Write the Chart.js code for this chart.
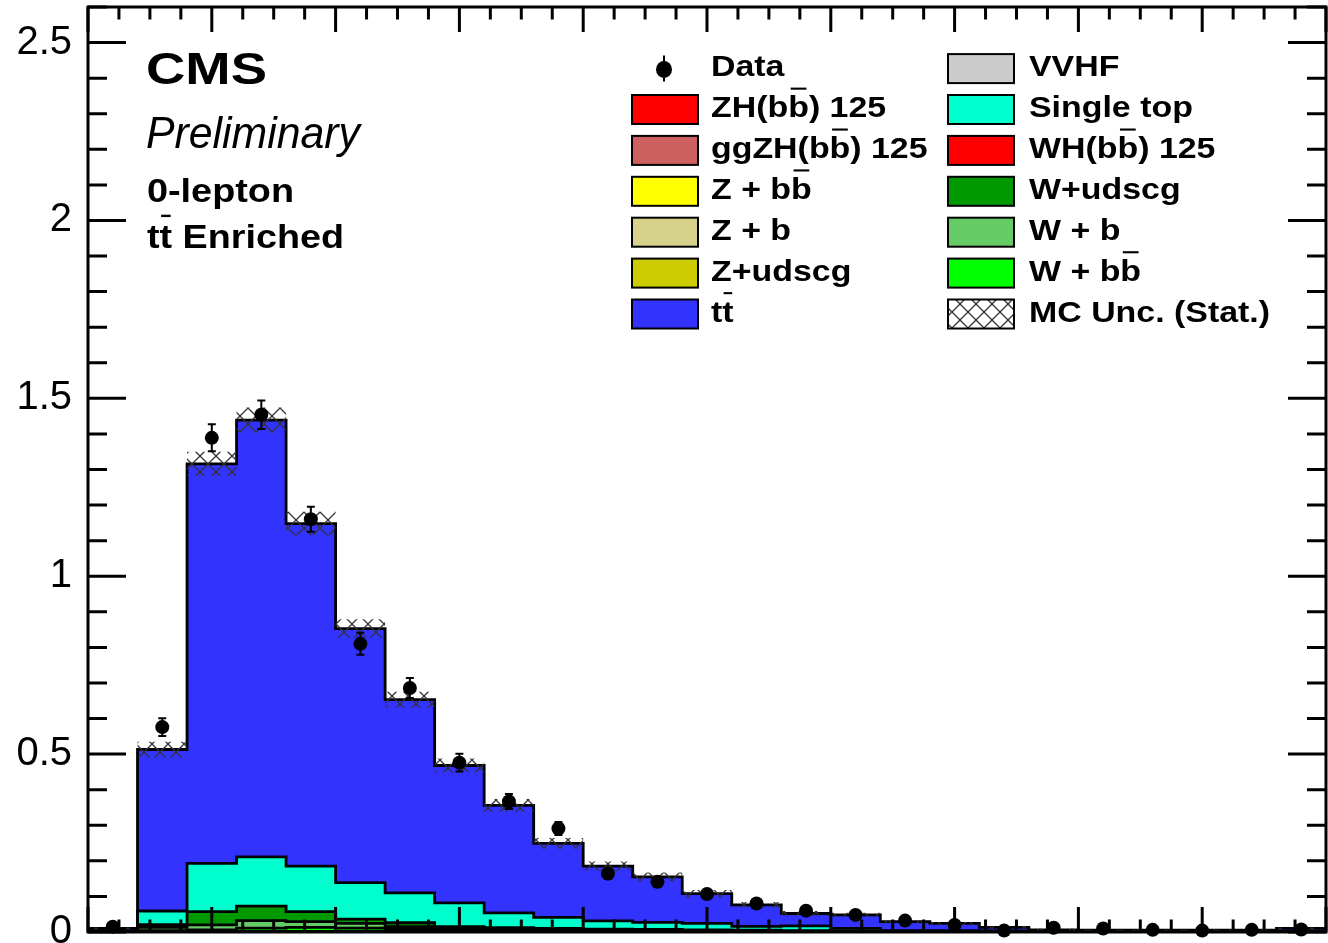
<!DOCTYPE html>
<html><head><meta charset="utf-8">
<script src="https://cdn.jsdelivr.net/npm/chart.js@4.4.1/dist/chart.umd.min.js"></script>
<style>html,body{margin:0;padding:0;background:#fff;overflow:hidden}#c{display:block}</style>
</head><body>
<canvas id="c" width="1328" height="943" style="width:1328px;height:943px"></canvas>
<script>
// ---- data ----
const binEdges = [0,20,40,60,80,100,120,140,160,180,200,220,240,260,280,300,320,340,360,380,400,420,440,460,480,500];

const zh     = [0,0,0,0,0,0,0,0,0,0,0,0,0,0,0,0,0,0,0,0,0,0,0,0,0];
const ggzh   = [0,0,0,0,0,0,0,0,0,0,0,0,0,0,0,0,0,0,0,0,0,0,0,0,0];
const wh     = [0,0,0,0,0,0,0,0,0,0,0,0,0,0,0,0,0,0,0,0,0,0,0,0,0];
const vvhf   = [0,0,0,0,0,0,0,0,0,0,0,0,0,0,0,0,0,0,0,0,0,0,0,0,0];
const zbb    = [0,0,0,0,0,0,0,0,0,0,0,0,0,0,0,0,0,0,0,0,0,0,0,0,0];
const zb     = [0,0,0,0,0,0,0,0,0,0,0,0,0,0,0,0,0,0,0,0,0,0,0,0,0];
const zudscg = [0,0,0,0,0,0,0,0,0,0,0,0,0,0,0,0,0,0,0,0,0,0,0,0,0];
const wbb    = [0,0.004,0.006,0.011,0.013,0.011,0.008,0.005,0.003,0.003,0.002,0.002,0.001,0.001,0.001,0.001,0.001,0,0,0,0,0,0,0,0];
const wb     = [0.001,0.009,0.014,0.021,0.016,0.013,0.007,0.005,0.004,0.003,0.003,0.002,0.002,0.002,0.001,0.001,0,0.001,0,0,0,0,0,0,0];
const wudscg = [0.001,0.008,0.037,0.041,0.028,0.012,0.011,0.005,0.005,0.004,0.003,0.003,0.003,0.002,0.002,0.001,0.001,0.001,0.001,0.001,0,0,0,0,0];
const singleTop = [0.002,0.038,0.136,0.138,0.128,0.103,0.084,0.067,0.042,0.031,0.023,0.020,0.018,0.011,0.013,0.007,0.002,0.002,0.002,0.001,0.001,0.001,0.001,0.001,0.001];
const ttbar  = [0.006,0.454,1.123,1.228,0.963,0.714,0.543,0.386,0.302,0.208,0.154,0.128,0.084,0.060,0.035,0.038,0.025,0.020,0.010,0.004,0.004,0.004,0.004,0.004,0.009];
const mcErr  = [0.003,0.022,0.034,0.035,0.033,0.026,0.022,0.020,0.018,0.015,0.013,0.012,0.010,0.008,0.007,0.006,0.005,0.004,0.003,0.003,0.003,0.003,0.003,0.003,0.003];

const dataVals = [0.015,0.576,1.389,1.454,1.160,0.810,0.686,0.476,0.367,0.291,0.164,0.141,0.107,0.080,0.060,0.048,0.032,0.020,0.004,0.012,0.010,0.006,0.004,0.006,0.007];
const dataErr  = [0.004,0.025,0.038,0.040,0.035,0.031,0.028,0.025,0.021,0.018,0.014,0.013,0.011,0.010,0.008,0.007,0.006,0.005,0.002,0.004,0.003,0.003,0.002,0.003,0.003];

const yTickLabels = ['0','0.5','1','1.5','2','2.5'];

// ---- styles ----
const FONT = "'Liberation Sans', Arial, Helvetica, sans-serif";
// bottom -> top of stack
const stackDef = [
  {label:'ZH(bb\u0304) 125',   data:zh,     color:'#ff0000'},
  {label:'ggZH(bb\u0304) 125', data:ggzh,   color:'#cc6060'},
  {label:'WH(bb\u0304) 125',   data:wh,     color:'#ff0000'},
  {label:'VVHF',               data:vvhf,   color:'#cccccc'},
  {label:'Z + bb\u0304',       data:zbb,    color:'#ffff00'},
  {label:'Z + b',              data:zb,     color:'#d6d28c'},
  {label:'Z+udscg',            data:zudscg, color:'#cccc00'},
  {label:'W + bb\u0304',       data:wbb,    color:'#00ff00'},
  {label:'W + b',              data:wb,     color:'#66cc66'},
  {label:'W+udscg',            data:wudscg, color:'#009900'},
  {label:'Single top',         data:singleTop, color:'#00ffcc'},
  {label:'tt\u0304',           data:ttbar,  color:'#3333ff'}
];

function stepPoints(vals){
  // point at each lower edge, plus closing point at the last edge; stepped 'before'
  const pts = vals.map((v,i)=>({x:binEdges[i], y:v}));
  pts.push({x:binEdges[binEdges.length-1], y:vals[vals.length-1]});
  return pts;
}

function makeHatch(bg){
  const t = document.createElement('canvas');
  t.width = 16; t.height = 16;
  const c = t.getContext('2d');
  if (bg){ c.fillStyle = bg; c.fillRect(0,0,16,16); }
  c.strokeStyle = '#333'; c.lineWidth = 1.3;
  c.beginPath();
  c.moveTo(0,0); c.lineTo(16,16);
  c.moveTo(16,0); c.lineTo(0,16);
  c.stroke();
  return t;
}

const ctx0 = document.getElementById('c').getContext('2d');
const hatch = ctx0.createPattern(makeHatch(null),'repeat');
const hatchWhite = ctx0.createPattern(makeHatch('#ffffff'),'repeat');

const datasets = [];
let cum = binEdges.slice(1).map(()=>0);
stackDef.forEach((s,i)=>{
  cum = cum.map((c,j)=>c + s.data[j]);
  datasets.push({
    type:'line', label:s.label, data:stepPoints(cum), stepped:'before',
    fill:'origin', backgroundColor:s.color, borderColor:'#000', borderWidth:2.8,
    borderJoinStyle:'miter', borderCapStyle:'butt',
    pointRadius:0, order:10+i
  });
});
const total = cum;
datasets.push({
  type:'line', label:'MC Unc. (Stat.)', data:stepPoints(total.map((t,i)=>t+mcErr[i])), stepped:'before',
  fill:'+1', backgroundColor:hatch, borderWidth:0, borderColor:'rgba(0,0,0,0)', pointRadius:0, order:2
});
datasets.push({
  type:'line', label:'_lower', data:stepPoints(total.map((t,i)=>Math.max(0,t-mcErr[i]))), stepped:'before',
  fill:false, borderWidth:0, borderColor:'rgba(0,0,0,0)', pointRadius:0, order:3
});
const binCenters = binEdges.slice(1).map((e,i)=>(e+binEdges[i])/2);
const DATA_IDX = datasets.length;
datasets.push({
  type:'line', label:'Data', showLine:false,
  data:binCenters.map((x,i)=>({x, y:dataVals[i]})),
  pointRadius:7, pointBackgroundColor:'#000', pointBorderColor:'#000', pointBorderWidth:0,
  order:0, clip:false
});

// ---- text helper: handles combining macron as an overline ----
function drawText(ctx, str, x, y, font, size, sx){
  const chars = [], bars = [];
  for (const ch of str){
    if (ch === '\u0304'){ bars.push(chars.length-1); } else chars.push(ch);
  }
  const plain = chars.join('');
  ctx.save();
  ctx.font = font;
  ctx.fillStyle = '#000';
  ctx.textAlign = 'left';
  ctx.textBaseline = 'alphabetic';
  ctx.translate(x, y);
  ctx.scale(sx, 1);
  ctx.fillText(plain, 0, 0);
  bars.forEach(idx=>{
    const x0 = ctx.measureText(plain.slice(0, idx)).width;
    const w = ctx.measureText(plain[idx]).width;
    ctx.fillRect(x0 + w*0.12, -size*0.98, w*0.76, size*0.07);
  });
  ctx.restore();
}
function fitScale(ctx, str, font, width){
  ctx.save(); ctx.font = font;
  const w = ctx.measureText(str.replace(/\u0304/g,'')).width;
  ctx.restore();
  return width / w;
}

const textItems = [
  {t:'CMS',          x:146, y:83.5, font:'bold 45px '+FONT,   size:45, w:121},
  {t:'Preliminary',  x:146, y:148,  font:'italic 45px '+FONT, size:45, w:214},
  {t:'0-lepton',     x:147, y:202,  font:'bold 34px '+FONT,   size:34, w:147},
  {t:'tt\u0304 Enriched', x:147, y:248, font:'bold 34px '+FONT, size:34, w:197}
];

const legendCol1 = ['Data','ZH(bb\u0304) 125','ggZH(bb\u0304) 125','Z + bb\u0304','Z + b','Z+udscg','tt\u0304'];
const legendCol2 = ['VVHF','Single top','WH(bb\u0304) 125','W+udscg','W + b','W + bb\u0304','MC Unc. (Stat.)'];

const decoPlugin = {
  id:'deco',
  beforeDatasetDraw(chart, args){
    if (args.index !== DATA_IDX) return;
    const ctx = chart.ctx, xs = chart.scales.x, ys = chart.scales.y;
    ctx.save();
    ctx.strokeStyle = '#000'; ctx.lineWidth = 2;
    binCenters.forEach((c,i)=>{
      const px = xs.getPixelForValue(c);
      const y1 = ys.getPixelForValue(dataVals[i]-dataErr[i]);
      const y2 = ys.getPixelForValue(dataVals[i]+dataErr[i]);
      ctx.beginPath();
      ctx.moveTo(px, y1); ctx.lineTo(px, y2);
      ctx.moveTo(px-4, y1); ctx.lineTo(px+4, y1);
      ctx.moveTo(px-4, y2); ctx.lineTo(px+4, y2);
      ctx.stroke();
    });
    ctx.restore();
  },
  afterDatasetsDraw(chart){
    const ctx = chart.ctx, xs = chart.scales.x, ys = chart.scales.y, a = chart.chartArea;
    ctx.save();
    ctx.strokeStyle = '#000'; ctx.lineWidth = 3; ctx.lineCap = 'butt';
    ctx.beginPath();
    for (let k=0; k<=40; k++){
      const v = k*12.5;
      const px = xs.getPixelForValue(v);
      const L = (k%4===0) ? 25 : 12.5;
      ctx.moveTo(px, a.bottom); ctx.lineTo(px, a.bottom-L);
      ctx.moveTo(px, a.top); ctx.lineTo(px, a.top+L);
    }
    for (let k=0; k<=26; k++){
      const py = ys.getPixelForValue(k/10);
      const L = (k%5===0) ? 38 : 19;
      ctx.moveTo(a.left, py); ctx.lineTo(a.left+L, py);
      ctx.moveTo(a.right, py); ctx.lineTo(a.right-L, py);
    }
    ctx.stroke();
    ctx.strokeRect(a.left, a.top, a.right-a.left, a.bottom-a.top);
    ctx.restore();
  },
  afterDraw(chart){
    const ctx = chart.ctx;
    textItems.forEach(it=>{
      drawText(ctx, it.t, it.x, it.y, it.font, it.size, fitScale(ctx, it.t, it.font, it.w));
    });
    const lf = 'bold 30px '+FONT, lsx = 1.13;
    const rowTop = 68.6, rowStep = 40.9;
    const colorOf = {};
    stackDef.forEach(s=>{ colorOf[s.label] = s.color; });
    const drawBox = (bx, cy, fillStyle)=>{
      ctx.save();
      ctx.fillStyle = fillStyle;
      ctx.fillRect(bx, cy-14.5, 66, 29);
      ctx.strokeStyle = '#000'; ctx.lineWidth = 2;
      ctx.strokeRect(bx, cy-14.5, 66, 29);
      ctx.restore();
    };
    legendCol1.forEach((lab,i)=>{
      const cy = rowTop + i*rowStep;
      if (lab === 'Data'){
        ctx.save();
        ctx.fillStyle = '#000'; ctx.strokeStyle = '#000'; ctx.lineWidth = 2;
        ctx.beginPath(); ctx.moveTo(664, cy-13); ctx.lineTo(664, cy+13); ctx.stroke();
        ctx.beginPath(); ctx.ellipse(664, cy+1, 8, 8.5, 0, 0, Math.PI*2); ctx.fill();
        ctx.restore();
      } else {
        drawBox(632, cy, colorOf[lab]);
      }
      drawText(ctx, lab, 711, cy+7.5, lf, 30, lsx);
    });
    legendCol2.forEach((lab,i)=>{
      const cy = rowTop + i*rowStep;
      drawBox(948, cy, lab.startsWith('MC') ? hatchWhite : colorOf[lab]);
      drawText(ctx, lab, 1029, cy+7.5, lf, 30, lsx);
    });
  }
};

new Chart(document.getElementById('c'), {
  type:'line',
  data:{datasets},
  options:{
    responsive:false, animation:false, devicePixelRatio:1, events:[],
    layout:{padding:{top:7, right:2, left:0, bottom:0}, autoPadding:false},
    plugins:{legend:{display:false}, tooltip:{enabled:false}, title:{display:false}},
    scales:{
      x:{type:'linear', min:0, max:500,
         grid:{display:false, drawTicks:false}, border:{display:false},
         ticks:{display:false},
         afterFit(s){ s.height = 11; s.paddingLeft = 0; s.paddingRight = 0; }},
      y:{type:'linear', min:0, max:2.6,
         grid:{display:false, drawTicks:false}, border:{display:false},
         ticks:{stepSize:0.5, includeBounds:false, padding:16, color:'#000',
                font:{family:FONT, size:40},
                callback:(v)=>{ const i = Math.round(v/0.5); return (Math.abs(v - i*0.5) < 1e-6 && yTickLabels[i]!==undefined) ? yTickLabels[i] : ''; }},
         afterFit(s){ s.width = 88; s.paddingTop = 0; s.paddingBottom = 0; }}
    }
  },
  plugins:[decoPlugin]
});
</script>
</body></html>
